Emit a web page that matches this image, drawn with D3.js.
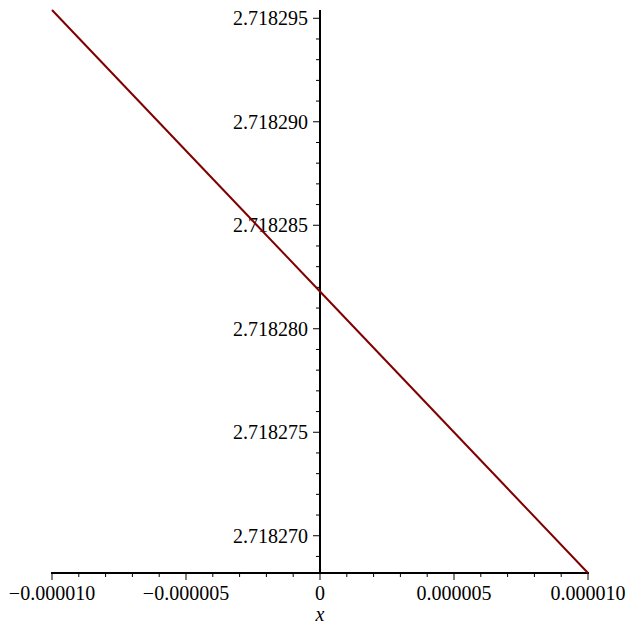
<!DOCTYPE html>
<html><head><meta charset="utf-8">
<script src="https://cdn.jsdelivr.net/npm/d3@7"></script>
<style>body{margin:0;background:#fff}svg{display:block}</style>
</head><body>
<script>
const xValues = [-0.00001, -0.000005, 0, 0.000005, 0.00001];
const yValues = [2.7182954, 2.7182886, 2.7182818, 2.7182750, 2.7182682];
const xTickValues = [-0.00001, -0.000005, 0, 0.000005, 0.00001];
const xTickLabels = ["\u22120.000010", "\u22120.000005", "0", "0.000005", "0.000010"];
const yTickValues = [2.718270, 2.718275, 2.718280, 2.718285, 2.718290, 2.718295];
const yTickLabels = ["2.718270", "2.718275", "2.718280", "2.718285", "2.718290", "2.718295"];

const FONT = "'Liberation Serif', 'Times New Roman', Times, 'DejaVu Serif', serif";
const W = 629, H = 626;
const svg = d3.select("body").append("svg").attr("width", W).attr("height", H)
  .style("font-family", FONT);
const x = d3.scaleLinear().domain([-0.00001, 0.00001]).range([52, 588]);
const y = d3.scaleLinear().domain([yValues[4], yValues[0]]).range([573, 10]);

const xMinor = d3.range(-10, 11).map(i => i * 1e-6);
const yMinor = d3.range(2718268, 2718296).map(i => i / 1e6).filter(v => v >= y.domain()[0] && v <= y.domain()[1]);

const axX = svg.append("g");
axX.append("line").attr("x1", x(-0.00001) - 1).attr("x2", x(0.00001) + 1).attr("y1", 573).attr("y2", 573).attr("stroke", "#000").attr("stroke-width", 2);
axX.selectAll("line.mn").data(xMinor).join("line").attr("class", "mn")
  .attr("x1", d => x(d)).attr("x2", d => x(d)).attr("y1", 573).attr("y2", d => (Math.round(d * 1e6) % 5 === 0) ? 580 : 577)
  .attr("stroke", "#000").attr("stroke-width", 1);
axX.selectAll("text").data(xTickValues).join("text")
  .attr("x", d => x(d)).attr("y", 600).attr("text-anchor", "middle").attr("font-size", 20)
  .attr("font-family", FONT)
  .text((d, i) => xTickLabels[i]);
svg.append("text").attr("x", x(0)).attr("y", 621).attr("text-anchor", "middle").attr("font-size", 20)
  .attr("font-family", FONT).attr("font-style", "italic").text("x");

const axY = svg.append("g");
axY.append("line").attr("x1", x(0)).attr("x2", x(0)).attr("y1", 10).attr("y2", 574).attr("stroke", "#000").attr("stroke-width", 2);
axY.selectAll("line.mn").data(yMinor).join("line").attr("class", "mn")
  .attr("x1", x(0)).attr("x2", d => (Math.round(d * 1e6) % 5 === 0) ? x(0) - 7 : x(0) - 4)
  .attr("y1", d => y(d)).attr("y2", d => y(d)).attr("stroke", "#000").attr("stroke-width", 1);
axY.selectAll("text").data(yTickValues).join("text")
  .attr("x", x(0) - 12).attr("y", d => y(d)).attr("dy", "0.35em").attr("text-anchor", "end").attr("font-size", 20)
  .attr("font-family", FONT)
  .text((d, i) => yTickLabels[i]);

const pts = xValues.map((v, i) => [v, yValues[i]]);
svg.append("path").datum(pts)
  .attr("d", d3.line().x(d => x(d[0])).y(d => y(d[1])))
  .attr("fill", "none").attr("stroke", "#800000").attr("stroke-width", 2);
</script>
</body></html>
